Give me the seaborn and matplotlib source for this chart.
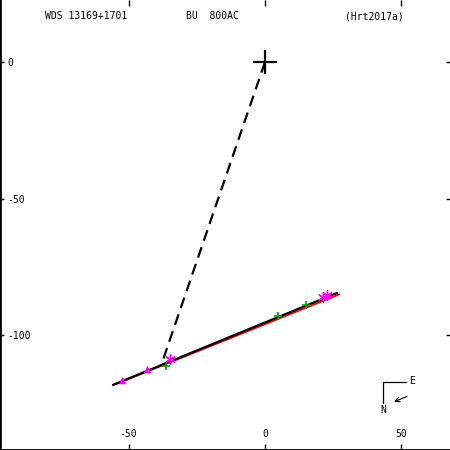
import matplotlib
matplotlib.use("Agg")
import matplotlib.pyplot as plt
import seaborn as sns
import pandas as pd

# ---- data ----
fit_x = [-55.7, 26.4]
fit_y = [-118.3, -84.6]
red_x = [-55.6, 27.3]
red_y = [-118.4, -85.1]
dash_x = [0.0, -37.4]
dash_y = [0.0, -109.2]
ast_x = [-34.8, 21.2, 22.7]
ast_y = [-108.8, -86.1, -85.5]
tri_x = [-52.5, -43.3]
tri_y = [-116.5, -112.5]
grn_x = [-36.3, 4.9, 15.0]
grn_y = [-111.2, -93.0, -89.0]
xticks = [-50, 0, 50]
yticks = [0, -50, -100]
title_left = "WDS 13169+1701"
title_mid = "BU  800AC"
title_right = "(Hrt2017a)"

sns.set_style("white")
plt.rcParams["font.family"] = ["DejaVu Sans Mono"]
plt.rcParams["text.color"] = "black"
plt.rcParams["xtick.color"] = "black"
plt.rcParams["ytick.color"] = "black"

fig = plt.figure(figsize=(4.5, 4.5), dpi=100)
ax = fig.add_axes([0, 0, 1, 1])

sns.lineplot(x=red_x, y=red_y, ax=ax, color="red", lw=1.3, sort=False, estimator=None)
sns.lineplot(x=fit_x, y=fit_y, ax=ax, color="black", lw=1.6, sort=False, estimator=None)
sns.lineplot(x=dash_x, y=dash_y, ax=ax, color="black", lw=1.6, sort=False,
             estimator=None, dashes=False, linestyle=(0, (5, 3)))
sns.scatterplot(x=grn_x, y=grn_y, ax=ax, color="#00a000", marker="+", s=40,
                linewidth=1.2, zorder=4)
sns.scatterplot(x=ast_x, y=ast_y, ax=ax, color="magenta", marker=(6, 2, 0), s=50,
                linewidth=1.0, zorder=5)
sns.scatterplot(x=tri_x, y=tri_y, ax=ax, color="magenta", marker="^", s=30,
                linewidth=0, zorder=5)
# primary
sns.scatterplot(x=[0], y=[0], ax=ax, color="black", marker="+", s=280,
                linewidth=1.6, zorder=6)

ax.set_xlim(-97.1, 67.8)
ax.set_ylim(-142.1, 22.7)
ax.set_aspect("equal", adjustable="box")

ax.set_xticks(xticks)
ax.set_yticks(yticks)
ax.set_xticklabels([str(v) for v in xticks])
ax.set_yticklabels([str(v) for v in yticks])

ax.spines["top"].set_visible(False)
ax.spines["right"].set_visible(False)
ax.spines["left"].set_linewidth(2)
ax.spines["bottom"].set_linewidth(2)
for s in ("left", "bottom"):
    ax.spines[s].set_color("black")

ax.tick_params(axis="x", which="both", direction="in", length=4.5, width=1,
               top=True, bottom=True, labelsize=7, pad=-8, color="black",
               labelcolor="black")
ax.tick_params(axis="y", which="both", direction="in", length=3, width=1,
               left=True, right=True, labelsize=7, pad=-5, color="black",
               labelcolor="black")
for lab in ax.get_xticklabels():
    lab.set_verticalalignment("bottom")
for lab in ax.get_yticklabels():
    lab.set_horizontalalignment("left")

# header texts
ax.text(45 / 450, 1 - 16 / 450, title_left, transform=ax.transAxes,
        fontsize=7, va="center", ha="left", color="black")
ax.text(186 / 450, 1 - 16 / 450, title_mid, transform=ax.transAxes,
        fontsize=7, va="center", ha="left", color="black")
ax.text(345 / 450, 1 - 16 / 450, title_right, transform=ax.transAxes,
        fontsize=7, va="center", ha="left", color="black")

# compass
def fx(px):
    return px / 450
def fy(py):
    return 1 - py / 450
ax.plot([fx(383.3), fx(405.7)], [fy(381.7), fy(381.7)], transform=ax.transAxes,
        color="black", lw=0.9)
ax.plot([fx(383.3), fx(383.3)], [fy(381.7), fy(402.7)], transform=ax.transAxes,
        color="black", lw=0.9)
ax.text(fx(409), fy(381), "E", transform=ax.transAxes, fontsize=7,
        va="center", ha="left", color="black")
ax.text(fx(383.3), fy(410), "N", transform=ax.transAxes, fontsize=7,
        va="center", ha="center", color="black")
ax.annotate("", xy=(fx(391.5), fy(403)), xytext=(fx(409.5), fy(395.5)),
            xycoords="axes fraction", textcoords="axes fraction",
            arrowprops=dict(arrowstyle="->", lw=0.8, color="black",
                            mutation_scale=8))

fig.savefig("out.png", dpi=100)
